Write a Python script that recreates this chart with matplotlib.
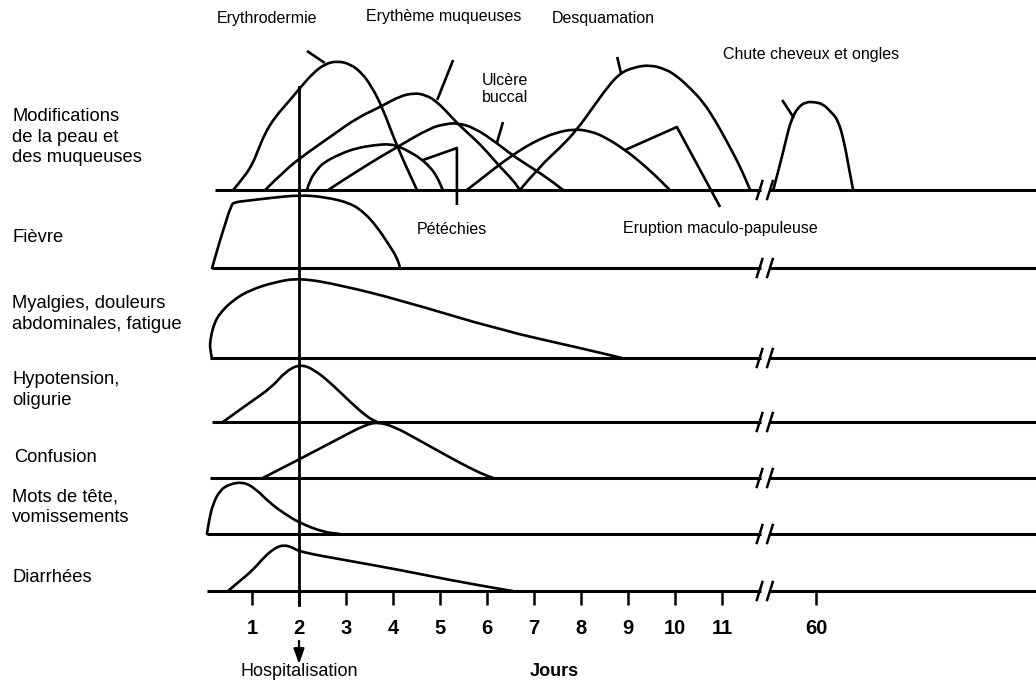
import matplotlib
matplotlib.use("Agg")
import matplotlib.pyplot as plt
from matplotlib.path import Path
from matplotlib.patches import PathPatch

plt.rcParams['font.family'] = ['Liberation Sans', 'DejaVu Sans']

# ---------------- data ----------------
row_labels = ["Modifications\nde la peau et\ndes muqueuses", "Fièvre",
              "Myalgies, douleurs\nabdominales, fatigue", "Hypotension,\noligurie",
              "Confusion", "Mots de tête,\nvomissements", "Diarrhées"]

tick_days = [1, 2, 3, 4, 5, 6, 7, 8, 9, 10, 11, 60]
tick_labels = ["1", "2", "3", "4", "5", "6", "7", "8", "9", "10", "11", "60"]
hospital_day = 2

# skin / mucosa (day, relative intensity)
erythro_days = [0.60, 0.85, 1.02, 1.13, 1.28, 1.49, 1.81, 2.02, 2.30, 2.55, 2.81, 3.09, 3.34, 3.55, 3.77, 4.09, 4.51]
erythro_int = [0, 14, 27, 40, 57, 73, 90, 102, 117, 126, 129, 126, 117, 103, 83, 43, 0]

muq_days = [1.28, 1.70, 2.17, 2.72, 3.23, 3.77, 4.15, 4.47, 4.68, 4.89, 5.15, 5.36, 5.64, 5.91, 6.28, 6.55, 6.70]
muq_int = [0, 20, 37, 55, 72, 84, 94, 97, 95, 90, 78, 67, 55, 43, 23, 10, 0]

petech_days = [2.17, 2.23, 2.38, 2.51, 2.87, 3.23, 3.62, 3.94, 4.15, 4.36, 4.57, 4.79, 4.94, 5.06]
petech_int = [0, 10, 20, 27, 36, 42, 45, 46, 43, 38, 32, 23, 13, 0]

ulcer_days = [2.62, 3.30, 4.09, 4.79, 5.11, 5.38, 5.74, 6.21, 6.53, 7.06, 7.34, 7.62]
ulcer_int = [0, 21, 43, 62, 66, 67, 62, 47, 35, 19, 10, 0]

erupt_days = [5.57, 5.85, 6.17, 6.49, 6.81, 7.13, 7.45, 7.83, 8.19, 8.51, 8.94, 9.26, 9.57, 9.89]
erupt_int = [0, 10, 22, 33, 43, 51, 57, 61, 59, 53, 40, 28, 15, 0]

desq_days = [6.70, 7.13, 7.55, 7.91, 8.26, 8.55, 8.83, 9.15, 9.47, 9.79, 10.04, 10.32, 10.60, 10.85, 11.11, 11.38, 11.60]
desq_int = [0, 24, 42, 60, 83, 102, 117, 123, 125, 121, 114, 102, 88, 70, 48, 24, 0]

hair_days = [59.09, 59.26, 59.36, 59.47, 59.62, 59.79, 59.96, 60.15, 60.32, 60.47, 60.60, 60.70, 60.79]
hair_int = [0, 30, 50, 70, 83, 88, 88, 86, 78, 70, 48, 22, 0]

fever_days = [0.15, 0.53, 0.66, 0.85, 1.38, 2.02, 2.55, 3.09, 3.40, 3.66, 3.89, 4.09, 4.15]
fever_int = [0, 63, 66, 67, 70, 73, 71, 65, 55, 41, 25, 10, 0]

myal_days = [0.15, 0.10, 0.12, 0.20, 0.32, 0.60, 0.96, 1.49, 2.02, 2.87, 4.15, 6.28, 7.98, 8.87]
myal_int = [0, 8, 21, 35, 45, 58, 68, 76, 80, 73, 58, 28, 10, 0]

hypo_days = [0.38, 0.91, 1.43, 1.70, 2.02, 2.34, 2.72, 3.09, 3.45, 3.66]
hypo_int = [0, 18, 35, 50, 58, 52, 37, 20, 5, 0]

conf_days = [1.23, 2.02, 2.87, 3.40, 3.68, 4.04, 4.47, 4.85, 5.43, 5.85, 6.13]
conf_int = [0, 19, 40, 53, 56, 51, 40, 30, 15, 5, 0]

head_days = [0.04, 0.09, 0.17, 0.32, 0.53, 0.81, 1.06, 1.38, 1.70, 2.02, 2.51, 2.87]
head_int = [0, 15, 30, 44, 50, 52, 46, 31, 20, 11, 2, 0]

diar_days = [0.49, 0.74, 1.02, 1.28, 1.49, 1.66, 1.85, 2.02, 3.09, 4.15, 5.21, 6.28, 6.55]
diar_int = [0, 10, 21, 35, 43, 46, 44, 39, 30, 21, 11, 2, 0]

# leader lines (day, intensity) for skin labels
lead_erythro = ([2.55, 2.17], [127, 139])
lead_muq = ([4.94, 5.28], [90, 130])
lead_ulcer = ([6.21, 6.34], [47, 68])
lead_petech = ([4.64, 5.36, 5.36], [30, 42, -15])
lead_erupt = ([8.94, 10.04, 10.96], [40, 63, -17])
lead_desq = ([8.85, 8.77], [117, 133])
lead_hair = ([59.53, 59.28], [72, 90])

# ---------------- layout ----------------
W, H = 1036, 684
PX_DAY = 47.0          # pixels per day
X_DAY1 = 252.0         # pixel position of day 1
GAP_SHIFT = 47         # days removed by the axis break (60 drawn at 13)
row_base = [190, 268, 358, 422, 478, 534, 591]      # baseline pixel rows
row_start = [0.21, 0.15, 0.11, 0.15, 0.11, 0.04, 0.04]
row_label_y = [137, 237, 314, 390, 458, 507, 577]
row_label_x = [12, 12, 12, 12, 14, 12, 12]
BREAK_L, BREAK_R = 11.80, 12.02
LW = 1.9
BLW = 2.2

def pos(d):
    return d - GAP_SHIFT if d > 30 else d

fig = plt.figure(figsize=(W / 100, H / 100), dpi=100)
ax = fig.add_axes([0, (H - row_base[-1]) / H, 1, row_base[-1] / H])
ax.set_xlim(1 - X_DAY1 / PX_DAY, 1 + (W - X_DAY1) / PX_DAY)
ax.set_ylim(row_base[-1], 0)
for s in ax.spines.values():
    s.set_visible(False)
ax.set_yticks([])
ax.set_xticks([pos(d) for d in tick_days])
ax.set_xticklabels(tick_labels, fontweight='bold', fontsize=14.5)
ax.tick_params(axis='x', direction='out', length=10, width=1.8, pad=10, color='black')


def smooth(days, vals, base, lw=LW):
    pts = [(pos(d), base - v) for d, v in zip(days, vals)]
    verts = [pts[0]]
    codes = [Path.MOVETO]
    for i in range(1, len(pts) - 1):
        mid = ((pts[i][0] + pts[i + 1][0]) / 2, (pts[i][1] + pts[i + 1][1]) / 2)
        verts += [pts[i], mid]
        codes += [Path.CURVE3, Path.CURVE3]
    verts.append(pts[-1])
    codes.append(Path.LINETO)
    ax.add_patch(PathPatch(Path(verts, codes), fill=False, lw=lw, edgecolor='black',
                           capstyle='round', joinstyle='round', clip_on=False))


def leader(ld, base):
    ax.plot([pos(d) for d in ld[0]], [base - v for v in ld[1]], color='black',
            lw=LW, solid_capstyle='butt', clip_on=False)


# baselines with break marks
xmax = ax.get_xlim()[1]
for start, base in zip(row_start, row_base):
    ax.plot([start, BREAK_L + 0.03], [base, base], color='black', lw=BLW, clip_on=False,
            solid_capstyle='butt')
    ax.plot([BREAK_R - 0.03, xmax], [base, base], color='black', lw=BLW, clip_on=False,
            solid_capstyle='butt')
    for bx in (BREAK_L, BREAK_R):
        ax.plot([bx - 0.06, bx + 0.06], [base + 9, base - 9], color='black', lw=1.8,
                clip_on=False)

# skin curves
b0 = row_base[0]
for d, v in [(erythro_days, erythro_int), (muq_days, muq_int), (petech_days, petech_int),
             (ulcer_days, ulcer_int), (erupt_days, erupt_int), (desq_days, desq_int),
             (hair_days, hair_int)]:
    smooth(d, v, b0)
for ld in [lead_erythro, lead_muq, lead_ulcer, lead_petech, lead_erupt, lead_desq, lead_hair]:
    leader(ld, b0)

smooth(fever_days, fever_int, row_base[1])
smooth(myal_days, myal_int, row_base[2])
smooth(hypo_days, hypo_int, row_base[3])
smooth(conf_days, conf_int, row_base[4])
smooth(head_days, head_int, row_base[5])
smooth(diar_days, diar_int, row_base[6])

# hospitalisation line + arrow
ax.plot([hospital_day, hospital_day], [87, row_base[-1] + 14], color='black', lw=2.0,
        clip_on=False)
ax.annotate('', xy=(hospital_day, 664), xytext=(hospital_day, 641),
            arrowprops=dict(arrowstyle='-|>,head_width=0.32,head_length=0.9', lw=1.6,
                            color='black', shrinkA=0, shrinkB=0),
            annotation_clip=False)


def ftext(x, y, s, **kw):
    fig.text(x / W, 1 - y / H, s, **kw)


for lab, lx, ly in zip(row_labels, row_label_x, row_label_y):
    ftext(lx, ly, lab, ha='left', va='center', fontsize=13.2, linespacing=1.27)

TF = 11.5
ftext(267, 18, "Erythrodermie", ha='center', va='center', fontsize=TF)
ftext(444, 16, "Erythème muqueuses", ha='center', va='center', fontsize=TF)
ftext(603, 19, "Desquamation", ha='center', va='center', fontsize=TF)
ftext(482, 89, "Ulcère\nbuccal", ha='left', va='center', fontsize=TF, linespacing=1.2)
ftext(811, 55, "Chute cheveux et ongles", ha='center', va='center', fontsize=TF)
ftext(452, 229, "Pétéchies", ha='center', va='center', fontsize=TF)
ftext(720, 229, "Eruption maculo-papuleuse", ha='center', va='center', fontsize=TF)
ftext(299, 671, "Hospitalisation", ha='center', va='center', fontsize=13)
ftext(554, 671, "Jours", ha='center', va='center', fontsize=13, fontweight='bold')

fig.savefig("out.png", dpi=100, facecolor='white')
